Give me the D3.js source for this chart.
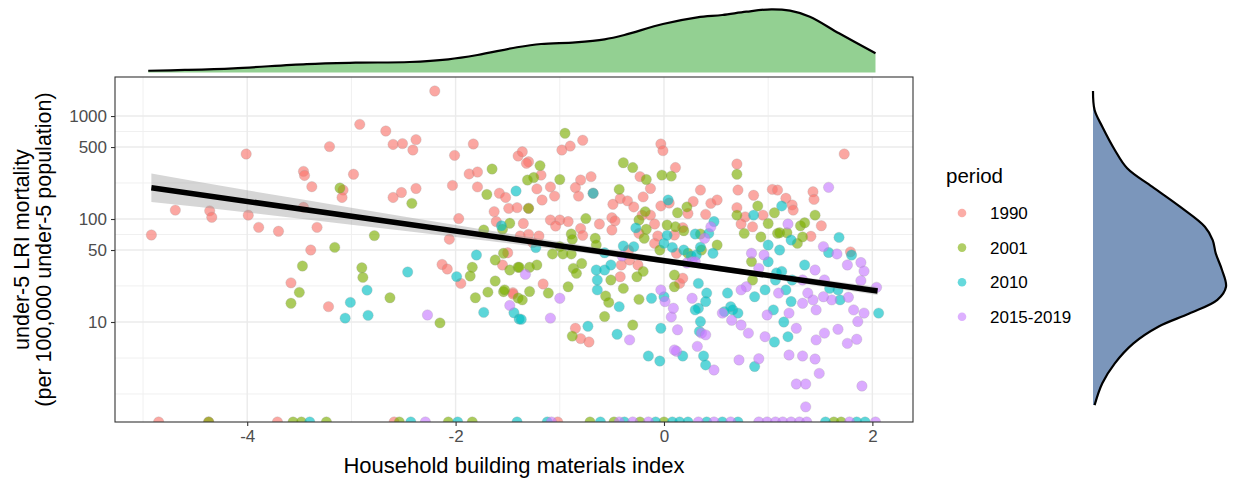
<!DOCTYPE html>
<html><head><meta charset="utf-8">
<script src="https://cdn.jsdelivr.net/npm/d3@7"></script>
<style>body{margin:0;background:#fff;} text{font-family:"Liberation Sans", Arial, sans-serif;}</style>
</head><body><svg id="c" width="1239" height="481"></svg>
<script>
// ---------------- DATA ----------------
const periods = ["1990", "2001", "2010", "2015-2019"];
const periodColors = ["#F8766D", "#7CAE00", "#00BFC4", "#C77CFF"];

// x = household building materials index, y = under-5 LRI mortality (0 = zero deaths, drawn at -Inf)
const x1990 = [-4.01,-4.69,-4.36,-4.34,-3.99,-3.89,-3.70,-4.92,-3.46,-3.45,-3.38,-3.46,-3.33,-3.39,-3.21,-3.58,-3.22,-2.20,-2.92,-2.67,-2.60,-2.51,-2.38,-2.41,-2.01,-1.83,-2.98,-3.08,-3.09,-2.60,-2.52,-2.38,-2.03,-1.87,-1.79,-1.79,-1.58,-1.52,-1.40,-1.49,-1.41,-1.63,-1.97,-1.61,-2.06,-1.50,-2.13,-2.08,-1.95,-1.55,-1.45,-0.98,-0.90,-0.78,-1.36,-1.30,-1.32,-1.18,-0.80,-0.70,-0.85,-0.82,-0.68,-1.09,-1.22,-1.17,-1.05,-1.30,-1.09,-1.00,-1.04,-0.92,-0.80,-0.62,-0.78,-1.35,-1.38,-1.30,-1.20,-1.26,-0.34,-0.49,-0.42,-0.35,-0.29,-0.23,-0.13,-0.20,-0.13,-0.21,-0.09,-0.24,-0.06,-0.09,-0.50,-0.47,-0.50,-0.03,-0.01,0.11,-0.03,0.05,0.10,0.12,0.18,0.28,0.23,0.35,0.40,0.45,0.51,0.70,0.71,0.86,0.70,0.78,0.74,0.85,0.95,1.04,1.09,1.17,1.23,1.24,1.41,1.43,1.44,1.51,1.73,1.79,0.15,0.18,-0.42,-0.41,-0.33,-0.25,-0.85,-0.80,-0.72,-1.16,-1.45,-4.85,-4.37,-3.71,-2.59,-1.02];
const y1990 = [428,122,120,104,109,83,76,70,290,265,206,130,83,50,505,24,14.1,1750,830,715,530,540,590,468,415,535,272,191,162,162,181,198,212,274,286,205,178,162,409,127,129,118,101,94.5,63.7,47,36.2,32.7,23.7,35.8,19.3,468,511,582,450,360,348,267,239,258,202,167,178,205,196,153,167,127,97.8,97.8,85.5,94.5,81,89.4,69.4,90.5,68.4,71,68.4,59,49.7,139,158,150,131,258,198,164,109,109,89.4,72.6,68.4,58,103,96,78.2,535,461,316,134,143,69.9,46.5,82.5,148,113,191,111,142,153,342,191,170,129,105,89.4,84,109,194,191,159,137,122,68,184,155,86,428,48,23.7,26.6,27.5,35.8,40,35.8,8.7,6.9,6.4,23.4,18.7,0,0,0,0,0];

const x2001 = [-3.47,-3.50,-3.58,-3.11,-2.42,-1.65,-1.70,-1.48,-1.55,-1.73,-2.78,-3.16,-1.54,-1.62,-2.90,-2.89,-1.84,-1.86,-1.48,-1.40,-1.62,-1.54,-1.40,-1.69,-1.81,-2.63,-2.15,-0.95,-1.19,-1.25,-1.31,-1.00,-1.30,-0.75,-0.89,-0.88,-0.66,-0.65,-1.00,-1.07,-0.97,-0.89,-0.39,-0.30,-0.43,-0.17,-0.18,-0.24,-0.17,-0.19,-0.02,0.07,0.03,0.11,0.19,-0.04,0.13,0.22,0.35,0.36,0.51,0.70,0.90,0.70,0.77,0.93,1.06,1.00,1.09,1.11,1.18,1.28,1.33,1.31,1.35,1.45,0.85,0.84,0.10,0.10,0.23,-0.30,-0.57,-0.56,-0.53,-0.39,-0.51,-0.26,-0.20,-0.24,-0.88,-0.92,-1.11,-1.29,-1.36,-1.22,-1.29,-1.39,-0.87,-0.84,-0.79,-1.53,-4.37,-3.56,-3.48,-3.24,-2.54,-2.07,-1.84,-0.71,-0.48,-0.23,0.00,1.63,1.70];
const y2001 = [35,19.4,15.2,200,142,306,173,91,79.5,78.2,69,53,46.5,40,33.6,27.1,34,28,32,34,25,19.7,17.1,19.5,17.2,17.2,9.8,680,330,253,239,242,127,101,71.5,63.5,65,56,54,45.8,45.8,45.8,352,316,194,242,118,97.8,79.5,65,267,261,87.4,84,77,50,115,131,71.5,50,55.9,272,134,109,72.6,67,115,90.5,72.6,73.6,73.6,58,67,86,92,109,25.6,38.6,22,28.6,46.5,9.35,11.3,17.9,15.5,21.2,25.6,27.5,31,16.6,7.3,22,19.1,19.8,16.4,35.8,34,34,33.2,29.7,37,20.5,0,0,0,0,0,0,0,0,0,0,0,0,0];

const x2010 = [-1.42,-1.56,-1.80,-2.46,-1.99,-2.85,-3.01,-3.06,-2.84,-1.73,-1.44,-1.39,-0.68,-1.23,-0.57,-0.39,-0.29,-0.27,0.04,0.00,0.03,0.08,0.19,0.26,0.48,0.43,0.30,0.47,0.86,1.13,1.22,1.58,1.68,1.80,2.06,1.67,1.69,1.22,1.19,1.06,1.05,1.15,1.17,1.23,1.59,1.35,1.13,1.07,0.97,0.87,1.00,1.08,1.11,1.00,0.87,0.71,0.66,0.61,0.64,0.58,0.33,0.41,0.40,0.33,0.30,0.35,0.34,0.38,0.40,0.18,0.00,-0.12,0.31,0.35,-0.03,-0.15,-0.04,-0.45,-0.43,-0.64,-0.64,-0.65,-0.57,-0.51,-0.73,-1.37,-3.40,-2.43,-1.98,-1.41,-1.12,-0.61,-0.38,-0.08,0.08,0.15,0.23,0.41,0.56,0.71,1.55,1.85,1.93];
const y2010 = [187,86,44.7,30.6,27.6,20.4,15.5,10.9,11.6,12.4,12.3,10.7,178,52.8,47,54.7,53.9,82,153,58,69.4,53,50,43.7,94.5,72.6,71.5,46.5,109,134,62.5,47.3,66.3,44.7,12.2,20.5,16.4,15.8,7.2,6.4,13.1,10,20.5,25.6,21.2,35.8,31,25.6,20.5,17.6,38.5,30,50,55.9,3.7,12.2,13.1,19.1,14.1,12.6,23.7,19.1,15.8,13.6,13.1,10.1,8.1,4.68,3.83,4.68,17.6,17,44.7,53.3,8.7,4.68,4.18,7.6,14.1,20.5,25.6,32,32,35.8,9.1,10.6,0,0,0,0,0,0,0,0,0,0,0,0,0,0,0,0,0];

const x2015 = [-2.27,-1.48,-0.40,0.45,0.39,1.19,1.58,1.53,1.66,1.76,1.89,1.92,1.89,2.04,1.92,1.86,1.82,1.77,1.61,1.53,1.46,1.43,1.38,1.33,1.20,1.27,1.54,1.46,1.67,1.76,1.85,1.45,1.49,1.33,1.27,1.36,1.36,1.90,1.20,0.97,0.99,1.10,1.33,1.45,1.54,0.79,0.74,0.91,0.96,0.84,0.74,0.81,0.91,0.72,0.65,0.56,0.27,0.36,0.40,0.32,0.48,0.12,0.13,0.07,0.01,-0.03,0.22,0.27,0.30,0.10,-0.33,-1.00,-1.09,-1.33,0.09,-2.29,-1.08,-0.43,-0.30,-0.15,0.33,0.48,0.64,0.91,0.99,1.07,1.14,1.22,1.30,1.37,1.78,2.03];
const y2015 = [11.7,14.5,43.7,84,65,89.4,203,54,45.8,35.8,37.8,31.2,25.2,21.7,12.2,10.1,13.1,17.4,16.4,17.6,13.1,16.4,19.1,15.2,12.2,8.7,7.8,6.7,8.5,6.2,6.8,4.37,3.17,4.68,2.5,2.5,1.5,2.39,4.78,7.2,11.7,19.1,25.6,32,25.6,22,20.5,33.2,44.7,46.5,9.35,7.8,4.4,4.28,10.4,12.2,17,7.8,7.5,5.8,3.42,5.2,8.4,11.2,15.8,20.5,37.4,38.5,38.5,5.35,6.7,17,10.9,29,13.6,0,0,0,0,0,0,0,0,0,0,0,0,0,0,0,0,0];

// linear fit (log10 scale)
const fitLineX = [-4.92, 2.05];
const fitLineY = [201, 20.0];
const fitBandX = [-4.92, -4, -3, -2, -1, 0, 1, 2.05];
const fitBandLo = [146, 116, 87.9, 67.0, 50.2, 36.9, 26.5, 18.3];
const fitBandHi = [277, 190, 129, 87.5, 60.1, 42.2, 30.3, 21.9];

// marginal densities (relative density)
const densTopX = [-4.95,-4.60,-4.13,-3.43,-2.96,-2.44,-2.07,-1.79,-1.41,-1.18,-0.85,-0.57,-0.38,-0.01,0.32,0.56,0.79,1.03,1.21,1.40,1.68,2.03];
const densTopD = [0.028,0.04,0.066,0.134,0.155,0.166,0.209,0.277,0.399,0.451,0.478,0.525,0.593,0.767,0.873,0.910,0.962,1.0,0.978,0.883,0.620,0.304];
const densRightY = [1750,1143,787,468,311,206,131.6,84.1,62.5,46.4,32.0,22.0,16.4,12.1,9.0,6.2,3.97,2.54,1.56];
const densRightD = [0,0.012,0.07,0.164,0.257,0.444,0.654,0.841,0.90,0.923,0.970,1.0,0.935,0.724,0.491,0.304,0.164,0.07,0.012];

// axes
const xTicks = [-4, -2, 0, 2];
const xMinor = [-5, -3, -1, 1];
const yTicks = [10, 50, 100, 500, 1000];
const yTickLabels = ["10", "50", "100", "500", "1000"];
const yMinor = [2, 4.47, 22.4, 70.7, 224, 707];

// ---------------- DRAW ----------------
const svg = d3.select("#c");
const P = {l:115, r:913, t:77, b:422};
const x = d3.scaleLinear().domain([-5.269, 2.39]).range([P.l, P.r]);
const y = d3.scaleLog().domain([Math.pow(10,0.029), Math.pow(10,3.379)]).range([P.b, P.t]);
const yy = v => v > 0 ? y(v) : P.b;

svg.append("defs").append("clipPath").attr("id","pc")
  .append("rect").attr("x",P.l).attr("y",P.t).attr("width",P.r-P.l).attr("height",P.b-P.t);

// grid
const g = svg.append("g");
g.selectAll(".ym").data(yMinor).join("line").attr("x1",P.l).attr("x2",P.r)
  .attr("y1",d=>y(d)).attr("y2",d=>y(d)).attr("stroke","#f0f0f0").attr("stroke-width",1);
g.selectAll(".xm").data(xMinor).join("line").attr("y1",P.t).attr("y2",P.b)
  .attr("x1",d=>x(d)).attr("x2",d=>x(d)).attr("stroke","#f0f0f0").attr("stroke-width",1);
g.selectAll(".yM").data(yTicks).join("line").attr("x1",P.l).attr("x2",P.r)
  .attr("y1",d=>y(d)).attr("y2",d=>y(d)).attr("stroke","#ebebeb").attr("stroke-width",1.4);
g.selectAll(".xM").data(xTicks).join("line").attr("y1",P.t).attr("y2",P.b)
  .attr("x1",d=>x(d)).attr("x2",d=>x(d)).attr("stroke","#ebebeb").attr("stroke-width",1.4);

// points
const pg = svg.append("g").attr("clip-path","url(#pc)");
const series = [[x1990,y1990],[x2001,y2001],[x2010,y2010],[x2015,y2015]];
series.forEach((s,i) => {
  const pts = s[0].map((v,j)=>({x:v, y:s[1][j]}));
  pg.selectAll(null).data(pts).join("circle")
    .attr("cx",d=>x(d.x)).attr("cy",d=>yy(d.y)).attr("r",5.2)
    .attr("fill",periodColors[i]).attr("fill-opacity",0.64)
    .attr("stroke","#9a9a9a").attr("stroke-opacity",0.25).attr("stroke-width",1);
});

// fit band + line
const band = fitBandX.map((v,i)=>({x:v, lo:fitBandLo[i], hi:fitBandHi[i]}));
pg.append("path").datum(band)
  .attr("d", d3.area().x(d=>x(d.x)).y0(d=>y(d.lo)).y1(d=>y(d.hi)).curve(d3.curveMonotoneX))
  .attr("fill","#999999").attr("fill-opacity",0.4);
pg.append("path").datum(fitLineX.map((v,i)=>({x:v,y:fitLineY[i]})))
  .attr("d", d3.line().x(d=>x(d.x)).y(d=>y(d.y)))
  .attr("stroke","#000").attr("stroke-width",5.5).attr("fill","none");

// border
svg.append("rect").attr("x",P.l).attr("y",P.t).attr("width",P.r-P.l).attr("height",P.b-P.t)
  .attr("fill","none").attr("stroke","#333333").attr("stroke-width",1.1);

// axes
const xa = svg.append("g").attr("transform",`translate(0,${P.b})`)
  .call(d3.axisBottom(x).tickValues(xTicks).tickSize(4).tickPadding(4).tickFormat(d=>String(d)));
xa.select(".domain").remove();
xa.selectAll("line").attr("stroke","#333333").attr("stroke-width",1.1);
xa.selectAll("text").attr("fill","#4d4d4d").attr("font-size","17px").attr("font-family","Liberation Sans, Arial, sans-serif");

const ya = svg.append("g").attr("transform",`translate(${P.l},0)`)
  .call(d3.axisLeft(y).tickValues(yTicks).tickSize(4).tickPadding(4).tickFormat((d,i)=>yTickLabels[i]));
ya.select(".domain").remove();
ya.selectAll("line").attr("stroke","#333333").attr("stroke-width",1.1);
ya.selectAll("text").attr("fill","#4d4d4d").attr("font-size","17px").attr("font-family","Liberation Sans, Arial, sans-serif");

// titles
svg.append("text").attr("x",(P.l+P.r)/2).attr("y",473).attr("text-anchor","middle")
  .attr("font-size","22px").attr("fill","#000").text("Household building materials index");
const yt = svg.append("text").attr("transform",`translate(29,${(P.t+P.b)/2}) rotate(-90)`)
  .attr("text-anchor","middle").attr("font-size","21.5px").attr("fill","#000");
yt.append("tspan").attr("x",0).attr("dy","0").text("under-5 LRI mortality");
yt.append("tspan").attr("x",0).attr("dy","21.7").text("(per 100,000 under-5 population)");

// legend
const lg = svg.append("g");
lg.append("text").attr("x",946).attr("y",183).attr("font-size","20.5px").attr("fill","#000").text("period");
periods.forEach((p,i)=>{
  const cy = 213 + i*34.6;
  lg.append("circle").attr("cx",962).attr("cy",cy).attr("r",4.3)
    .attr("fill",periodColors[i]).attr("fill-opacity",0.6);
  lg.append("text").attr("x",990).attr("y",cy+6).attr("font-size","17px").attr("fill","#000").text(p);
});

// top marginal density
const dT = d3.scaleLinear().domain([0,1]).range([72.5, 9.3]);
const topData = densTopX.map((v,i)=>({x:v,d:densTopD[i]}));
svg.append("path").datum(topData)
  .attr("d", d3.area().x(d=>x(d.x)).y0(dT(0)).y1(d=>dT(d.d)).curve(d3.curveCatmullRom))
  .attr("fill","#93d092");
svg.append("path").datum(topData)
  .attr("d", d3.line().x(d=>x(d.x)).y(d=>dT(d.d)).curve(d3.curveCatmullRom))
  .attr("fill","none").attr("stroke","#000").attr("stroke-width",2.2);

// right marginal density
const dR = d3.scaleLinear().domain([0,1]).range([1093, 1226]);
const rData = densRightY.map((v,i)=>({y:v,d:densRightD[i]}));
svg.append("path").datum(rData)
  .attr("d", d3.area().y(d=>y(d.y)).x0(dR(0)).x1(d=>dR(d.d)).curve(d3.curveCatmullRom))
  .attr("fill","#7b96bb");
svg.append("path").datum(rData)
  .attr("d", d3.line().y(d=>y(d.y)).x(d=>dR(d.d)).curve(d3.curveCatmullRom))
  .attr("fill","none").attr("stroke","#000").attr("stroke-width",2.2);
</script>
</body></html>
